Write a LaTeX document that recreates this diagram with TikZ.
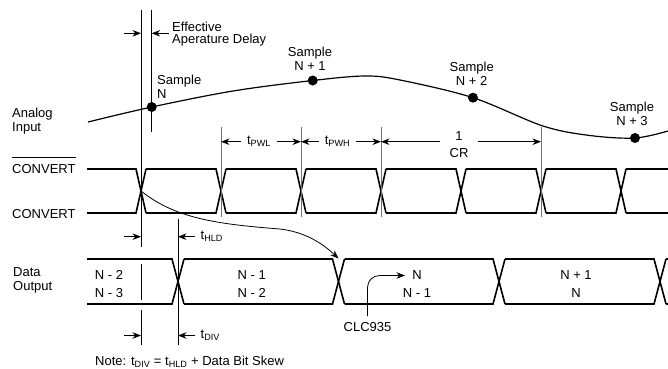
\documentclass[tikz,border=0pt]{standalone}
\usepackage{fontspec}
\setmainfont{Liberation Sans}
\usetikzlibrary{arrows.meta}
\begin{document}
\begin{tikzpicture}[x=1pt, y=-1pt, >={Stealth[length=8.5pt,width=6.5pt]},
    every node/.style={font=\fontsize{13}{14}\selectfont, inner sep=0pt},
    wave/.style={line width=1.6pt},
    guide/.style={line width=0.8pt, black!55},
    vline/.style={line width=0.8pt},
    dimarr/.style={->, line width=0.8pt},
    lbl/.style={inner xsep=5.5pt},
    busl/.style={align=center, font=\fontsize{13}{18}\selectfont},
    sdot/.style={circle, fill, minimum size=10pt}]
\useasboundingbox (0,0) rectangle (668,368);

% signal names
\node[anchor=north west, align=left] (analog) at (12,108) {Analog\\Input};
\node[anchor=base west] (convb) at (12,173) {CONVERT};
\draw[line width=0.6pt] ([yshift=6pt]convb.north west) -- ([yshift=6pt]convb.north east);
\node[anchor=base west] (conv) at (12,218) {CONVERT};
\node[anchor=north west, align=left] (dout) at (13,267) {Data\\Output};

% analog input and samples
\draw[line width=1.2pt] plot[smooth, tension=0.55] coordinates {(88,122) (151.7,107) (233,91) (312.7,80.5) (365,76) (400,80) (473,97.7) (543,126) (590,135.5) (635,138) (668,131)};
\node[sdot] (s0) at (151.7,107) {};
\node[sdot] (s1) at (312.7,80.5) {};
\node[sdot] (s2) at (473,97.7) {};
\node[sdot] (s3) at (635,138) {};
\node[anchor=north west, align=left] (ls0) at (157,75) {Sample\\N};
\node[anchor=north, align=center] (ls1) at (310,47) {Sample\\N + 1};
\node[anchor=north, align=center] (ls2) at (471.7,62) {Sample\\N + 2};
\node[anchor=north, align=center] (ls3) at (632,102) {Sample\\N + 3};

% sample instant and aperture delay
\draw[vline] (141,10) -- (141,247) (141,264) -- (141,300) (141,310) -- (141,345);
\draw[vline] (151.7,10) -- (151.7,132);
\coordinate (apA) at (141,33.3);
\coordinate (apB) at (151.7,33.3);
\draw[dimarr] ([xshift=-17pt]apA) -- (apA);
\draw[dimarr] ([xshift=17pt]apB) -- (apB);
\node[anchor=north west, align=left, font=\fontsize{13}{12.5}\selectfont] (aper) at (172,21.7) {Effective\\Aperature Delay};

% CONVERT and its complement
\foreach \c [remember=\c as \p (initially 82)] in {141,221,...,621}{
  \draw[wave] (\p+5,169) -- (\c-5,169) -- (\c+5,213);
  \draw[wave] (\p+5,213) -- (\c-5,213) -- (\c+5,169);
}
\draw[wave] (626,169) -- (668,169) (626,213) -- (668,213);

% pulse widths
\foreach \g in {221,301,381,541} \draw[guide] (\g,127) -- (\g,217);
\coordinate (g1) at (221,141.7);
\coordinate (g2) at (301,141.7);
\coordinate (g3) at (381,141.7);
\coordinate (g4) at (541,141.7);
\node[lbl] (tpwl) at (259,141.7) {t\textsubscript{PWL}};
\draw[dimarr] (tpwl) -- (g1);
\draw[dimarr] (tpwl) -- (g2);
\node[lbl] (tpwh) at (337.5,141.7) {t\textsubscript{PWH}};
\draw[dimarr] (tpwh) -- (g2);
\draw[dimarr] (tpwh) -- (g3);
\node[align=center, inner xsep=9pt, font=\fontsize{13}{17}\selectfont] (cr) at (459,144.5) {1\\CR};
\draw[dimarr] (cr.west |- g3) -- (g3);
\draw[dimarr] (cr.east |- g4) -- (g4);

% data output bus
\foreach \c [remember=\c as \p (initially 81)] in {178,338.5,499,660}{
  \draw[wave] (\p+6,259) -- (\c-6,259) -- (\c+6,304);
  \draw[wave] (\p+6,304) -- (\c-6,304) -- (\c+6,259);
}
\draw[wave] (666,259) -- (668,259) (666,304) -- (668,304);
\node[busl] (d0) at (109,284) {N - 2\\N - 3};
\node[busl] (d1) at (251.7,284) {N - 1\\N - 2};
\node[busl] (d2) at (417,284) {N\\N - 1};
\node[busl] (d3) at (576,284) {N + 1\\N};

% hold and data valid times
\draw[vline] (178,219) -- (178,345);
\coordinate (hA) at (141,236.7);
\coordinate (hB) at (178,236.7);
\coordinate (vA) at (141,335.5);
\coordinate (vB) at (178,335.5);
\draw[dimarr] ([xshift=-17pt]hA) -- (hA);
\node[lbl, anchor=west] (thld) at (195,236.7) {t\textsubscript{HLD}};
\draw[dimarr] (thld) -- (hB);
\draw[dimarr] ([xshift=-17pt]vA) -- (vA);
\node[lbl, anchor=west] (tdiv) at (195,335.5) {t\textsubscript{DIV}};
\draw[dimarr] (tdiv) -- (vB);

% convert edge to data change
\coordinate (cx0) at (141,191);
\coordinate (dx1) at (338.5,258.5);
\draw[->, line width=0.8pt] (cx0) .. controls (175,218) and (215,224) .. (280,229) .. controls (305,232) and (322,243) .. (dx1);

% part number
\node (clc) at (367.5,327) {CLC935};
\coordinate (clcN) at (405,275.5);
\draw[->, line width=0.8pt, rounded corners=12pt] ([yshift=6pt]clc.north) |- (clcN);

\node[anchor=base west] (note) at (95,365) {Note: t\textsubscript{DIV} = t\textsubscript{HLD} + Data Bit Skew};
\end{tikzpicture}
\end{document}
